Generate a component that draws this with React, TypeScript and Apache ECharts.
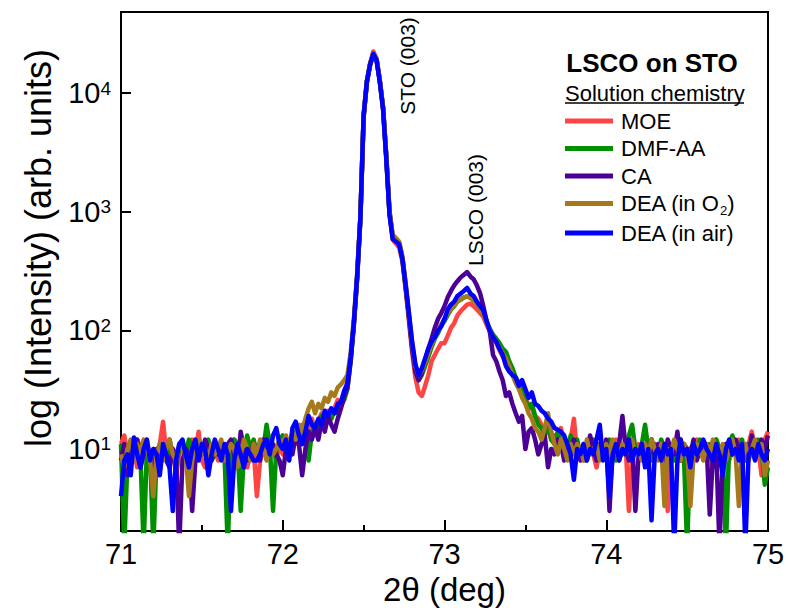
import React, { useEffect, useRef } from "react";
import * as echarts from "echarts";

// 2θ sampling positions (deg)
const twoTheta = [
  71.00, 71.02, 71.04, 71.06, 71.08, 71.10, 71.12, 71.14, 71.16, 71.18,
  71.20, 71.22, 71.24, 71.26, 71.28, 71.30, 71.32, 71.34, 71.36, 71.38,
  71.40, 71.42, 71.44, 71.46, 71.48, 71.50, 71.52, 71.54, 71.56, 71.58,
  71.60, 71.62, 71.64, 71.66, 71.68, 71.70, 71.72, 71.74, 71.76, 71.78,
  71.80, 71.82, 71.84, 71.86, 71.88, 71.90, 71.92, 71.94, 71.96, 71.98,
  72.00, 72.02, 72.04, 72.06, 72.08, 72.10, 72.12, 72.14, 72.16, 72.18,
  72.20, 72.22, 72.24, 72.26, 72.28, 72.30, 72.32, 72.34, 72.36, 72.38,
  72.40, 72.42, 72.44, 72.46, 72.48, 72.50, 72.52, 72.54, 72.56, 72.58,
  72.60, 72.62, 72.64, 72.66, 72.68, 72.70, 72.72, 72.74, 72.76, 72.78,
  72.80, 72.82, 72.84, 72.86, 72.88, 72.90, 72.92, 72.94, 72.96, 72.98,
  73.00, 73.02, 73.04, 73.06, 73.08, 73.10, 73.12, 73.14, 73.16, 73.18,
  73.20, 73.22, 73.24, 73.26, 73.28, 73.30, 73.32, 73.34, 73.36, 73.38,
  73.40, 73.42, 73.44, 73.46, 73.48, 73.50, 73.52, 73.54, 73.56, 73.58,
  73.60, 73.62, 73.64, 73.66, 73.68, 73.70, 73.72, 73.74, 73.76, 73.78,
  73.80, 73.82, 73.84, 73.86, 73.88, 73.90, 73.92, 73.94, 73.96, 73.98,
  74.00, 74.02, 74.04, 74.06, 74.08, 74.10, 74.12, 74.14, 74.16, 74.18,
  74.20, 74.22, 74.24, 74.26, 74.28, 74.30, 74.32, 74.34, 74.36, 74.38,
  74.40, 74.42, 74.44, 74.46, 74.48, 74.50, 74.52, 74.54, 74.56, 74.58,
  74.60, 74.62, 74.64, 74.66, 74.68, 74.70, 74.72, 74.74, 74.76, 74.78,
  74.80, 74.82, 74.84, 74.86, 74.88, 74.90, 74.92, 74.94, 74.96, 74.98,
  75.00,
];

const moe = [
  11, 13, 9, 8, 10, 7, 11, 9, 12, 8,
  10, 9, 11, 17, 9, 8, 10, 6, 9, 11,
  8, 10, 12, 9, 14, 8, 7, 11, 9, 10,
  8, 11, 9, 7, 10, 12, 8, 9, 11, 7,
  9, 10, 4, 8, 11, 9, 12, 10, 8, 11,
  9, 12, 10, 14, 11, 13, 16, 12, 15, 18,
  14, 17, 20, 16, 21, 18, 22, 26, 24, 29,
  34, 58, 115, 280, 880, 6400, 12600, 17800, 22500, 19500,
  12800, 7500, 2900, 960, 580, 540, 500, 380, 220, 120,
  65, 40, 30, 28, 34, 42, 55, 62, 70, 78,
  78, 90, 105, 115, 134, 145, 155, 165, 168, 160,
  150, 140, 130, 112, 98, 85, 78, 68, 60, 55,
  50, 45, 40, 36, 30, 26, 24, 22, 19, 18,
  16, 14, 15, 12, 13, 11, 15, 10, 9, 12,
  18, 9, 10, 8, 11, 12, 9, 7, 10, 11,
  9, 8, 10, 12, 9, 10, 11, 3, 9, 10,
  11, 9, 8, 10, 12, 9, 10, 11, 8, 3,
  9, 10, 12, 8, 11, 9, 10, 8, 12, 9,
  10, 11, 9, 7, 12, 10, 9, 11, 8, 10,
  9, 12, 10, 8, 11, 14, 9, 10, 6, 12,
  14,
];

const dmfAa = [
  11, 1.5, 8, 10, 9, 12, 9, 1.5, 10, 9,
  1.5, 9, 11, 10, 8, 12, 9, 7, 10, 11,
  9, 12, 10, 8, 11, 9, 10, 12, 8, 9,
  11, 10, 9, 1.5, 10, 12, 11, 3, 9, 13,
  10, 12, 9, 11, 10, 16, 11, 3, 10, 12,
  13, 11, 10, 12, 14, 11, 13, 15, 8, 14,
  16, 15, 19, 17, 20, 18, 21, 20, 23, 26,
  32, 55, 112, 275, 870, 6300, 12400, 17600, 21600, 19200,
  12600, 7500, 2850, 980, 600, 565, 530, 395, 230, 130,
  72, 45, 38, 42, 50, 60, 72, 85, 95, 110,
  120, 135, 150, 160, 175, 182, 190, 193, 190, 180,
  170, 155, 140, 120, 103, 92, 85, 78, 70, 66,
  55, 48, 40, 36, 30, 26, 22, 24, 19, 16,
  15, 13, 16, 12, 11, 14, 10, 12, 9, 13,
  10, 12, 9, 11, 8, 10, 12, 9, 11, 10,
  9, 12, 10, 8, 11, 9, 10, 13, 16, 10,
  9, 11, 16, 10, 8, 11, 9, 12, 10, 9,
  11, 8, 10, 12, 9, 1.5, 10, 11, 9, 12,
  10, 9, 11, 8, 12, 10, 9, 1.5, 11, 13,
  10, 9, 12, 8, 11, 10, 9, 12, 10, 5,
  7,
];

const ca = [
  8, 11, 6, 9, 10, 12, 7, 9, 11, 8,
  6, 10, 9, 11, 8, 7, 10, 9, 1.5, 8,
  10, 9, 3, 8, 11, 9, 12, 10, 8, 11,
  9, 10, 8, 11, 12, 9, 7, 14, 10, 8,
  9, 11, 10, 8, 12, 9, 10, 11, 9, 8,
  6, 10, 12, 9, 13, 11, 6, 10, 14, 12,
  15, 12, 17, 14, 19, 16, 14, 18, 22, 28,
  33, 56, 115, 280, 880, 6300, 12300, 17300, 21300, 19000,
  12700, 7600, 2950, 1000, 620, 590, 545, 405, 235, 130,
  70, 45, 38, 44, 55, 70, 85, 105, 125, 140,
  160, 190, 215, 240, 260, 280, 295, 310, 285, 270,
  240, 205, 160, 120, 98, 62, 55, 45, 38, 28,
  30, 24, 20, 17, 19, 10, 14, 15, 12, 9,
  11, 13, 7, 10, 9, 12, 11, 8, 10, 9,
  12, 10, 8, 11, 9, 13, 10, 8, 11, 9,
  12, 3, 10, 9, 11, 19, 10, 8, 12, 3,
  9, 11, 10, 8, 12, 9, 11, 10, 8, 12,
  10, 9, 14, 8, 11, 10, 9, 12, 8, 10,
  9, 11, 2.8, 9, 10, 1.5, 8, 11, 10, 9,
  12, 10, 8, 11, 9, 13, 10, 9, 12, 10,
  13,
];

const deaO2 = [
  9, 7, 10, 12, 8, 11, 9, 12, 10, 8,
  4, 9, 11, 8, 10, 12, 9, 8, 11, 10,
  9, 4, 8, 11, 12, 9, 10, 8, 11, 9,
  10, 12, 8, 9, 11, 10, 7, 9, 12, 10,
  8, 11, 9, 12, 10, 8, 11, 9, 10, 12,
  11, 13, 10, 14, 12, 16, 14, 18, 22, 25,
  20, 24, 22, 27, 25, 30, 28, 33, 35, 38,
  42, 65, 125, 300, 920, 6600, 12700, 17700, 22000, 19600,
  13000, 7700, 3000, 1020, 640, 600, 560, 420, 250, 140,
  78, 50, 42, 46, 54, 64, 76, 88, 100, 112,
  125, 140, 152, 162, 175, 185, 190, 193, 188, 178,
  168, 152, 136, 118, 100, 88, 80, 72, 64, 58,
  50, 42, 36, 32, 27, 24, 20, 18, 15, 14,
  12, 15, 20, 14, 11, 9, 12, 10, 8, 11,
  9, 11, 10, 8, 12, 9, 10, 11, 8, 10,
  11, 9, 12, 10, 8, 11, 9, 10, 12, 9,
  10, 8, 11, 9, 12, 10, 8, 11, 3.3, 10,
  9, 12, 10, 8, 11, 10, 3.3, 9, 11, 10,
  8, 11, 9, 12, 10, 9, 11, 8, 10, 12,
  9, 3.3, 10, 11, 8, 10, 12, 9, 11, 6,
  8,
];

const deaAir = [
  4, 8, 9, 6, 12.5, 9, 7, 10, 12, 8,
  10, 9, 6, 11, 9, 7, 3, 8, 11, 12,
  9, 7, 10, 12, 8, 11, 10, 6, 9, 12,
  10, 8, 11, 9, 3, 8, 11, 9, 7, 10,
  9, 8, 8, 9, 11, 12, 9, 13, 15, 11,
  10, 12, 8, 15, 17, 13, 11, 14, 19, 16,
  15, 18, 16, 21, 19, 22, 20, 24, 25, 31,
  36, 60, 120, 290, 900, 6500, 12500, 17500, 21500, 19000,
  12500, 7400, 2800, 950, 590, 560, 530, 400, 240, 140,
  80, 52, 42, 48, 58, 70, 80, 88, 100, 108,
  125, 150, 165, 175, 195, 205, 215, 228, 205, 195,
  175, 160, 148, 120, 100, 88, 80, 70, 62, 50,
  45, 42, 40, 34, 38, 32, 27, 30, 24, 23,
  21, 20, 18, 17, 15, 14.5, 14, 13, 11, 9,
  5.5, 10, 9, 11, 8, 10, 9, 12, 16, 8,
  10, 4, 9, 11, 8, 10, 9, 12, 8, 10,
  9, 11, 7, 10, 2.5, 9, 10, 8, 11, 9,
  10, 1.5, 8, 12, 9, 10, 7, 11, 9, 10,
  12, 10, 9, 8, 11, 9, 6, 10, 12, 9,
  10, 8, 11, 1.5, 9, 10, 8, 11, 9, 8,
  10,
];

const seriesNames = ["MOE", "DMF-AA", "CA", "DEA (in O2)", "DEA (in air)"];
const seriesColors = ["#ff4444", "#008f00", "#4b0096", "#a67a1c", "#0000ff"];
const seriesValues = [moe, dmfAa, ca, deaO2, deaAir];

const xTickValues = [71, 72, 73, 74, 75];
const yTickExponents = [1, 2, 3, 4];

const FONT = "'Liberation Sans', Arial, Helvetica, sans-serif";

export default function App() {
  const ref = useRef<HTMLDivElement>(null);

  useEffect(() => {
    if (!ref.current) return;
    document.body.style.margin = "0";
    const chart = echarts.init(ref.current, undefined, { renderer: "svg" });

    const series = seriesNames.map((name, k) => ({
      name,
      type: "line",
      data: twoTheta.map((x, i) => [x, seriesValues[k][i]]),
      showSymbol: false,
      symbol: "none",
      clip: true,
      color: seriesColors[k],
      lineStyle: { color: seriesColors[k], width: 4.5, join: "round" },
      z: 2 + k,
    }));

    const option = {
      animation: false,
      backgroundColor: "#ffffff",
      grid: {
        left: 121,
        right: 20,
        top: 12,
        bottom: 79,
        show: true,
        borderColor: "#000",
        borderWidth: 2,
        backgroundColor: "transparent",
        containLabel: false,
      },
      xAxis: {
        type: "value",
        min: xTickValues[0],
        max: xTickValues[xTickValues.length - 1],
        interval: 1,
        axisLine: { show: true, onZero: false, lineStyle: { color: "#000", width: 2 } },
        axisTick: { show: true, inside: true, length: 11, lineStyle: { color: "#000", width: 2 } },
        minorTick: { show: true, splitNumber: 2, length: 6, lineStyle: { color: "#000", width: 2 } },
        splitLine: { show: false },
        axisLabel: {
          color: "#000",
          fontSize: 29,
          fontFamily: FONT,
          margin: 8,
          formatter: (v: number) => (xTickValues.includes(Math.round(v)) ? String(Math.round(v)) : ""),
        },
        name: "2θ (deg)",
        nameLocation: "middle",
        nameGap: 35,
        nameTextStyle: { color: "#000", fontSize: 33, fontFamily: FONT },
      },
      yAxis: {
        type: "log",
        logBase: 10,
        min: 2.03,
        max: 48400,
        axisLine: { show: true, onZero: false, lineStyle: { color: "#000", width: 2 } },
        axisTick: { show: true, inside: true, length: 10, lineStyle: { color: "#000", width: 2 } },
        minorTick: { show: false },
        splitLine: { show: false },
        axisLabel: {
          color: "#000",
          fontSize: 29,
          fontFamily: FONT,
          margin: 10,
          showMinLabel: false,
          showMaxLabel: false,
          formatter: (v: number) => {
            const e = Math.log10(v);
            const r = Math.round(e);
            if (Math.abs(e - r) > 1e-6 || !yTickExponents.includes(r)) return "";
            return `10{sup|${r}}`;
          },
          rich: {
            sup: { fontSize: 19, fontFamily: FONT, color: "#000", verticalAlign: "top" },
          },
        },
      },
      legend: {
        data: seriesNames,
        orient: "vertical",
        left: 565,
        top: 110,
        padding: 0,
        itemWidth: 48,
        itemHeight: 5,
        itemGap: 5.5,
        icon: "rect",
        formatter: (name: string) => (name === "DEA (in O2)" ? "DEA (in O{sub|2})" : name),
        textStyle: {
          color: "#000",
          fontSize: 22,
          fontFamily: FONT,
          padding: [0, 0, 0, 3],
          rich: {
            sub: { fontSize: 13, fontFamily: FONT, color: "#000", verticalAlign: "bottom", padding: [13, 0, 0, 0] },
          },
        },
      },
      graphic: [
        {
          type: "text",
          x: 38,
          y: 248,
          rotation: Math.PI / 2,
          style: {
            text: "log (Intensity) (arb. units)",
            fontSize: 36,
            fontFamily: FONT,
            fill: "#000",
            textAlign: "center",
            textVerticalAlign: "middle",
            align: "center",
            verticalAlign: "middle",
          },
        },
        {
          type: "text",
          x: 407,
          y: 66,
          rotation: Math.PI / 2,
          style: {
            text: "STO (003)",
            fontSize: 21,
            fontFamily: FONT,
            fill: "#000",
            textAlign: "center",
            textVerticalAlign: "middle",
            align: "center",
            verticalAlign: "middle",
          },
        },
        {
          type: "text",
          x: 475,
          y: 210,
          rotation: Math.PI / 2,
          style: {
            text: "LSCO (003)",
            fontSize: 21,
            fontFamily: FONT,
            fill: "#000",
            textAlign: "center",
            textVerticalAlign: "middle",
            align: "center",
            verticalAlign: "middle",
          },
        },
        {
          type: "text",
          x: 652,
          y: 63,
          style: {
            text: "LSCO on STO",
            fontSize: 26,
            fontWeight: "bold",
            fontFamily: FONT,
            fill: "#000",
            textAlign: "center",
            textVerticalAlign: "middle",
            align: "center",
            verticalAlign: "middle",
          },
        },
        {
          type: "text",
          x: 565,
          y: 93,
          style: {
            text: "Solution chemistry",
            fontSize: 22,
            fontFamily: FONT,
            fill: "#000",
            textAlign: "left",
            textVerticalAlign: "middle",
            align: "left",
            verticalAlign: "middle",
          },
        },
        {
          type: "line",
          shape: { x1: 565, y1: 103, x2: 744, y2: 103 },
          style: { stroke: "#000", lineWidth: 1.5 },
        },
      ],
      series,
    };

    chart.setOption(option as any);
    return () => chart.dispose();
  }, []);

  return <div ref={ref} style={{ width: 788, height: 611, position: "fixed", left: 0, top: 0 }} />;
}
